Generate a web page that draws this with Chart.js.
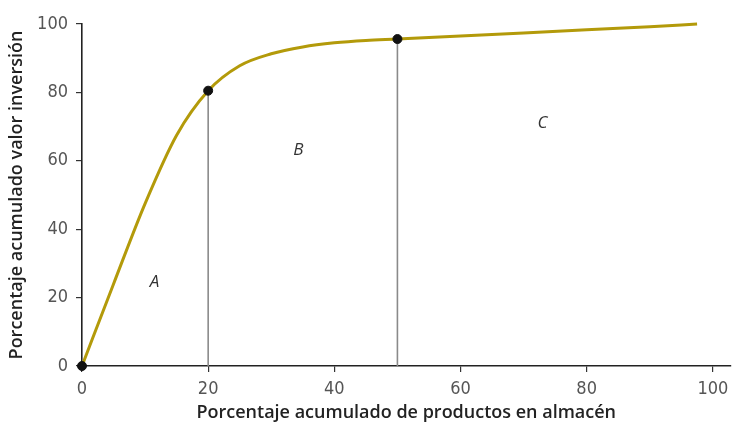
<!DOCTYPE html>
<html>
<head>
<meta charset="utf-8">
<script src="https://cdn.jsdelivr.net/npm/chart.js@4"></script>
<style>
  html, body { margin: 0; padding: 0; background: #fff; }
  #wrap { width: 736px; height: 428px; }
</style>
</head>
<body>
<div id="wrap"><canvas id="grafica"></canvas></div>
<script>
// Curva ABC: % acumulado de productos vs % acumulado del valor de inversión
const xProductos = [0, 5, 10, 15, 20, 25, 30, 35, 40, 45, 50, 60, 70, 80, 90, 97.5];
const yInversion = [0, 24, 47.5, 67.5, 80.5, 87.8, 91.3, 93.3, 94.5, 95.2, 95.6, 96.5, 97.4, 98.3, 99.2, 100];

// cortes entre zonas A|B y B|C
const cortesX = [0, 20, 50];

// etiquetas de zona y donde van (en valores de los ejes)
const zonas = ['A', 'B', 'C'];
const zonasX = [11.5, 34.3, 73];
const zonasY = [24.5, 63, 71];

const xTicks = [0, 20, 40, 60, 80, 100];
const yTicks = [0, 20, 40, 60, 80, 100];

const fuenteTicks = "'Liberation Sans Narrow', 'DejaVu Sans Condensed', Roboto, sans-serif";
const fuenteTitulos = "'Open Sans', Roboto, sans-serif";

const curva = xProductos.map((x, i) => ({ x: x, y: yInversion[i] }));
const puntos = cortesX.map(c => ({ x: c, y: yInversion[xProductos.indexOf(c)] }));

// lineas verticales desde el eje hasta la curva (solo en 20 y 50)
const verticales = puntos.filter(p => p.x > 0).map(p => ({
    type: 'line',
    data: [{ x: p.x, y: 0 }, { x: p.x, y: p.y }],
    borderColor: '#8a8a8a',
    borderWidth: 1.6,
    pointRadius: 0,
    order: 3
}));

// plugin para escribir A, B, C dentro del area
const letrasZona = {
    id: 'letrasZona',
    afterDatasetsDraw(chart) {
        const { ctx, scales } = chart;
        ctx.save();
        ctx.font = "italic 17px " + fuenteTitulos;
        ctx.fillStyle = '#333';
        ctx.textAlign = 'center';
        ctx.textBaseline = 'middle';
        zonas.forEach((z, i) => {
            ctx.fillText(z, scales.x.getPixelForValue(zonasX[i]), scales.y.getPixelForValue(zonasY[i]));
        });
        ctx.restore();
    }
};

new Chart(document.getElementById('grafica'), {
    type: 'line',
    data: {
        datasets: [
            {
                data: puntos,
                showLine: false,
                pointRadius: 4.5,
                pointBackgroundColor: '#111',
                pointBorderColor: '#111',
                order: 0
            },
            {
                data: curva,
                borderColor: '#b39a0a',
                borderWidth: 3,
                pointRadius: 0,
                cubicInterpolationMode: 'monotone',
                order: 1
            },
            ...verticales
        ]
    },
    options: {
        responsive: true,
        maintainAspectRatio: false,
        animation: false,
        clip: false,
        layout: { padding: { top: 24, right: 3, left: 0, bottom: 0 } },
        plugins: { legend: { display: false }, tooltip: { enabled: false } },
        scales: {
            x: {
                type: 'linear',
                min: 0,
                max: 102.8,
                afterBuildTicks: s => { s.ticks = xTicks.map(v => ({ value: v })); },
                afterFit: s => { s.height = 62; },
                grid: { display: true, drawOnChartArea: false, drawTicks: true, tickLength: 6, color: '#333', lineWidth: 1.2 },
                border: { display: true, color: '#222', width: 1.6 },
                ticks: { color: '#555', font: { family: fuenteTicks, size: 18 }, padding: 7, maxRotation: 0 },
                title: { display: true, text: 'Porcentaje acumulado de productos en almacén', color: '#222', font: { family: fuenteTitulos, size: 18, weight: '600' }, padding: { top: 0 } }
            },
            y: {
                type: 'linear',
                min: 0,
                max: 100,
                afterBuildTicks: s => { s.ticks = yTicks.map(v => ({ value: v })); },
                afterFit: s => { s.width = 82; },
                grid: { display: true, drawOnChartArea: false, drawTicks: true, tickLength: 6, color: '#333', lineWidth: 1.2 },
                border: { display: true, color: '#222', width: 1.6 },
                ticks: { color: '#555', font: { family: fuenteTicks, size: 18 }, padding: 8 },
                title: { display: true, text: 'Porcentaje acumulado valor inversión', color: '#222', font: { family: fuenteTitulos, size: 18, weight: '600' }, padding: { top: 6, bottom: 2 } }
            }
        }
    },
    plugins: [letrasZona]
});
</script>
</body>
</html>
